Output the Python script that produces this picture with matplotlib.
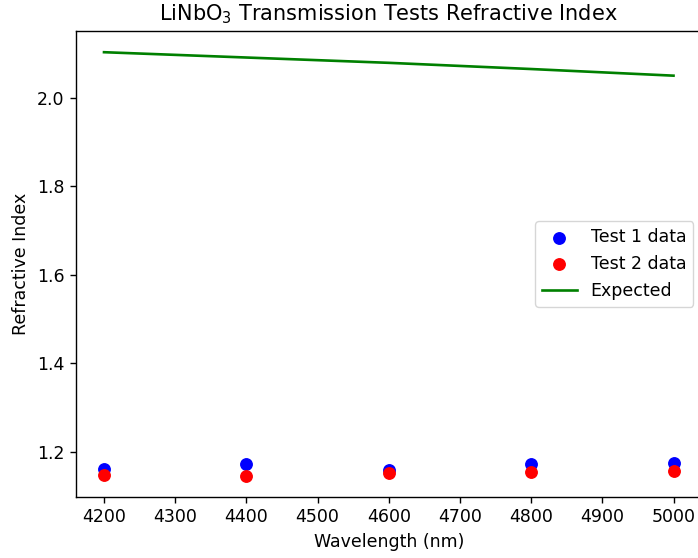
import matplotlib
matplotlib.use("Agg")
import matplotlib.pyplot as plt

wavelength_nm = [4200, 4400, 4600, 4800, 5000]
test1_index = [1.161, 1.173, 1.159, 1.172, 1.175]
test2_index = [1.147, 1.146, 1.153, 1.155, 1.157]
expected_index = [2.103, 2.091, 2.079, 2.065, 2.050]

plt.rcParams["font.family"] = "DejaVu Sans"
plt.rcParams["font.size"] = 12.5
plt.rcParams["axes.linewidth"] = 1.0
plt.rcParams["xtick.major.size"] = 4.4
plt.rcParams["ytick.major.size"] = 4.4
plt.rcParams["xtick.major.width"] = 1.0
plt.rcParams["ytick.major.width"] = 1.0
plt.rcParams["axes.labelpad"] = 5
plt.rcParams["axes.titlepad"] = 7.5

fig = plt.figure(figsize=(6.98, 5.58), dpi=100)
ax = fig.add_axes([0.1082, 0.1093, 0.8975, 0.8351])

ax.scatter(wavelength_nm, test1_index, color="blue", s=68, label="Test 1 data", zorder=3)
ax.scatter(wavelength_nm, test2_index, color="red", s=68, label="Test 2 data", zorder=3)
ax.plot(wavelength_nm, expected_index, color="green", lw=1.9, label="Expected")

ax.set_title(r"LiNbO$_3$ Transmission Tests Refractive Index", fontsize=15)
ax.set_xlabel("Wavelength (nm)", fontsize=12.5)
ax.set_ylabel("Refractive Index", fontsize=12.5)
ax.tick_params(labelsize=12.5)
ax.legend(loc="center right", fontsize=12.5)

fig.savefig("out.png", dpi=100)
